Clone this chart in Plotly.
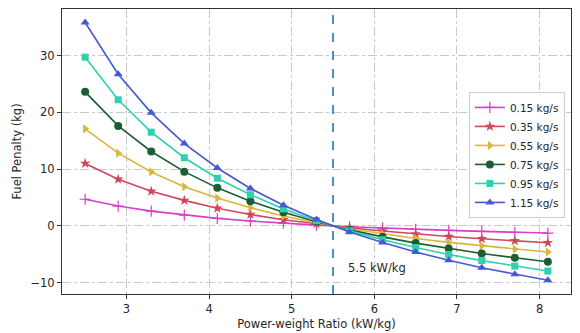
import plotly.graph_objects as go

ratio = [2.5, 2.9, 3.3, 3.7, 4.1, 4.5, 4.9, 5.3, 5.7, 6.1, 6.5, 6.9, 7.3, 7.7, 8.1]

flow_labels = ["0.15 kg/s", "0.35 kg/s", "0.55 kg/s", "0.75 kg/s", "0.95 kg/s", "1.15 kg/s"]

pen_015 = [4.7, 3.5, 2.6, 1.9, 1.33, 0.87, 0.48, 0.15, -0.14, -0.38, -0.60, -0.79, -0.96, -1.12, -1.25]
pen_035 = [11.0, 8.2, 6.1, 4.5, 3.1, 2.0, 1.1, 0.35, -0.32, -0.90, -1.41, -1.86, -2.26, -2.62, -2.95]
pen_055 = [17.1, 12.8, 9.5, 6.9, 4.9, 3.2, 1.75, 0.54, -0.50, -1.40, -2.20, -2.90, -3.50, -4.10, -4.60]
pen_075 = [23.6, 17.6, 13.1, 9.55, 6.7, 4.36, 2.4, 0.74, -0.69, -1.93, -3.02, -3.98, -4.84, -5.61, -6.30]
pen_095 = [29.7, 22.2, 16.5, 12.0, 8.4, 5.5, 3.0, 0.93, -0.87, -2.43, -3.80, -5.02, -6.10, -7.07, -7.94]
pen_115 = [35.8, 26.7, 19.9, 14.5, 10.2, 6.6, 3.65, 1.13, -1.05, -2.93, -4.59, -6.05, -7.35, -8.52, -9.57]

series = [pen_015, pen_035, pen_055, pen_075, pen_095, pen_115]
colors = ["#d83ec8", "#d0465a", "#d9b63c", "#1c5e34", "#30cfae", "#4658d2"]
symbols = ["cross-thin", "star", "triangle-right", "circle", "square", "triangle-up"]
sizes = [8, 8, 8, 8, 7, 8]

threshold = 5.5
threshold_label = "5.5 kW/kg"

fig = go.Figure()
for lab, vals, c, s, sz in zip(flow_labels, series, colors, symbols, sizes):
    fig.add_trace(go.Scatter(
        x=ratio, y=vals, name=lab, mode="lines+markers",
        line=dict(color=c, width=1.6),
        marker=dict(symbol=s, size=sz, color=c, line=dict(color=c, width=1.2 if s == "cross-thin" else 0)),
    ))

fig.add_vline(x=threshold, line=dict(color="#1f77b4", width=1.6, dash="dash"))
fig.add_annotation(x=5.66, y=-7.4, text=threshold_label, showarrow=False,
                   xanchor="left", yanchor="middle", font=dict(size=11.5, color="#262626"))

axis_common = dict(
    showgrid=True, gridcolor="#c9c9c9", griddash="dashdot", gridwidth=1,
    showline=True, linecolor="#333333", linewidth=1, mirror=True,
    ticks="outside", ticklen=4, tickcolor="#333333", automargin=False,
    tickfont=dict(size=11.5, color="#262626"), zeroline=False,
)

fig.update_xaxes(range=[2.22, 8.38], tickvals=[3, 4, 5, 6, 7, 8],
                 title=dict(text="Power-weight Ratio (kW/kg)", font=dict(size=11.5, color="#262626"), standoff=5),
                 **axis_common)
fig.update_yaxes(range=[-11.98, 38.18], tickvals=[-10, 0, 10, 20, 30],
                 title=dict(text="Fuel Penalty (kg)", font=dict(size=11.5, color="#262626"), standoff=6),
                 **axis_common)

# page body has an 8px margin, so the figure is sized/offset to land on the reference pixels
fig.update_layout(
    width=572, height=325,
    margin=dict(l=54, r=9, t=1, b=39),
    plot_bgcolor="white", paper_bgcolor="white",
    font=dict(family="DejaVu Sans", size=11.5, color="#262626"),
    legend=dict(x=0.988, y=0.709, xanchor="right", yanchor="top",
                bgcolor="rgba(255,255,255,0.9)", bordercolor="#cccccc", borderwidth=1,
                font=dict(size=10.5), tracegroupgap=0, itemwidth=30),
)

fig.write_html("out.html")
